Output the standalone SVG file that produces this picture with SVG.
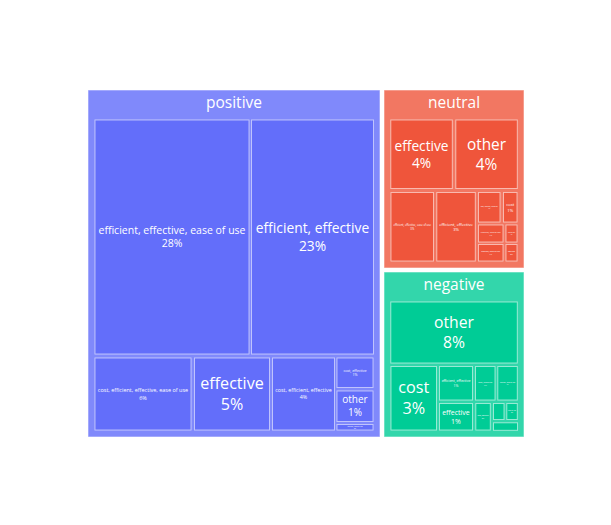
<svg xmlns="http://www.w3.org/2000/svg" width="611" height="525" viewBox="0 0 611 525">
<style>
text{font-family:"Open Sans","DejaVu Sans",sans-serif;fill:#fff;text-anchor:middle}
.pp{fill:#8089FB}.np{fill:#F27762}.gp{fill:#33D6AB}
.pl{fill:#636EFA}.nl{fill:#EF553B}.gl{fill:#00CC96}
rect{stroke:#fff;stroke-opacity:0.55;stroke-width:1}
.hd{font-size:15.5px}
</style>
<rect x="0" y="0" width="611" height="525" fill="#fff" stroke="none"/>
<g id="positive">
<rect class="pp" x="88" y="90" width="292" height="347"/>
<text class="hd" x="234" y="108">positive</text>
</g>
<g id="neutral">
<rect class="np" x="384" y="90" width="140" height="178"/>
<text class="hd" x="454" y="108">neutral</text>
</g>
<g id="negative">
<rect class="gp" x="384" y="272" width="140" height="165"/>
<text class="hd" x="454" y="290">negative</text>
</g>
<g id="connectors"></g>
<g id="pos-eeu">
<rect class="pl" x="95" y="120" width="154" height="234"/>
<text x="172" y="233.6" font-size="10.5">efficient, effective, ease of use<tspan x="172" y="247.3">28%</tspan></text>
</g>
<g id="pos-ee">
<rect class="pl" x="251.5" y="120" width="122" height="234"/>
<text x="312.5" y="233" font-size="13.8">efficient, effective<tspan x="312.5" y="250.8">23%</tspan></text>
</g>
<g id="pos-ceeu">
<rect class="pl" x="95" y="358" width="96" height="72"/>
<text x="143" y="392.3" font-size="5.5">cost, efficient, effective, ease of use<tspan x="143" y="399.5">6%</tspan></text>
</g>
<g id="pos-e">
<rect class="pl" x="194.5" y="358" width="75" height="72"/>
<text x="232" y="389.2" font-size="16.1">effective<tspan x="232" y="410.1">5%</tspan></text>
</g>
<g id="pos-cee">
<rect class="pl" x="272.5" y="358" width="62" height="72"/>
<text x="303.5" y="392.4" font-size="5.3">cost, efficient, effective<tspan x="303.5" y="399.3">4%</tspan></text>
</g>
<g id="pos-ce">
<rect class="pl" x="337" y="358" width="36" height="29.5"/>
<text x="355" y="371.7" font-size="3.65">cost, effective<tspan x="355" y="376.4">1%</tspan></text>
</g>
<g id="pos-o">
<rect class="pl" x="337" y="391" width="36" height="30.5"/>
<text x="355" y="403.3" font-size="10">other<tspan x="355" y="416.3">1%</tspan></text>
</g>
<g id="pos-small">
<rect class="pl" x="337" y="424.5" width="36" height="5.5"/>
<text x="355" y="426.8" font-size="1.6">efficient, ease of use<tspan x="355" y="428.8">0%</tspan></text>
</g>
<g id="neu-e">
<rect class="nl" x="390.8" y="120" width="61.5" height="68.5"/>
<text x="421.5" y="150.6" font-size="13.7">effective<tspan x="421.5" y="168.4">4%</tspan></text>
</g>
<g id="neu-o">
<rect class="nl" x="455.8" y="120" width="61.5" height="68.5"/>
<text x="486.5" y="149.6" font-size="15.4">other<tspan x="486.5" y="169.6">4%</tspan></text>
</g>
<g id="neu-eeu">
<rect class="nl" x="391" y="192.5" width="42.5" height="68.5"/>
<text x="412.25" y="226" font-size="2.7">efficient, effective, ease of use<tspan x="412.25" y="229.5">3%</tspan></text>
</g>
<g id="neu-ee">
<rect class="nl" x="436.8" y="192.5" width="38.5" height="68.5"/>
<text x="456" y="225.5" font-size="4.1">efficient, effective<tspan x="456" y="230.8">3%</tspan></text>
</g>
<g id="neu-cee">
<rect class="nl" x="478.5" y="192.5" width="21.5" height="29.5"/>
<text x="489.25" y="206.8" font-size="1.6">cost, efficient, effective<tspan x="489.25" y="208.9">1%</tspan></text>
</g>
<g id="neu-c">
<rect class="nl" x="503.5" y="192.5" width="13.5" height="29.5"/>
<text x="510.25" y="206" font-size="4.2">cost<tspan x="510.25" y="211.5">1%</tspan></text>
</g>
<g id="neu-eu">
<rect class="nl" x="478.5" y="225" width="24.5" height="17"/>
<text x="490.75" y="232.9" font-size="2.05">effective, ease of use<tspan x="490.75" y="235.6">1%</tspan></text>
</g>
<g id="neu-u">
<rect class="nl" x="506" y="225" width="11" height="17"/>
<text x="511.5" y="233.1" font-size="1.3">ease of use<tspan x="511.5" y="234.8">1%</tspan></text>
</g>
<g id="neu-fu">
<rect class="nl" x="478.5" y="244.5" width="24.5" height="16.5"/>
<text x="490.75" y="252.2" font-size="1.97">efficient, ease of use<tspan x="490.75" y="254.7">1%</tspan></text>
</g>
<g id="neu-f">
<rect class="nl" x="506" y="244.5" width="11" height="16.5"/>
<text x="511.5" y="252.2" font-size="1.9">efficient<tspan x="511.5" y="254.6">0%</tspan></text>
</g>
<g id="neg-o">
<rect class="gl" x="390.8" y="302" width="126.5" height="61"/>
<text x="454" y="327.8" font-size="15.7">other<tspan x="454" y="348.2">8%</tspan></text>
</g>
<g id="neg-c">
<rect class="gl" x="391" y="366.5" width="45.5" height="63.5"/>
<text x="413.75" y="393.4" font-size="16.2">cost<tspan x="413.75" y="414.4">3%</tspan></text>
</g>
<g id="neg-ee">
<rect class="gl" x="439.5" y="366.5" width="33" height="33.5"/>
<text x="456" y="382.2" font-size="3.5">efficient, effective<tspan x="456" y="386.7">1%</tspan></text>
</g>
<g id="neg-e">
<rect class="gl" x="439.5" y="403.5" width="33" height="26.5"/>
<text x="456" y="414.6" font-size="7">effective<tspan x="456" y="423.7">1%</tspan></text>
</g>
<g id="neg-ce">
<rect class="gl" x="475.5" y="366.5" width="19.5" height="33.5"/>
<text x="485.25" y="382.6" font-size="2.2">cost, effective<tspan x="485.25" y="385.5">1%</tspan></text>
</g>
<g id="neg-fu">
<rect class="gl" x="497.8" y="366.5" width="19.5" height="33.5"/>
<text x="507.5" y="382.8" font-size="1.6">efficient, ease of use<tspan x="507.5" y="384.9">1%</tspan></text>
</g>
<g id="neg-cf">
<rect class="gl" x="475.8" y="403.5" width="14.5" height="26.5"/>
<text x="483" y="416.2" font-size="1.8">cost, efficient<tspan x="483" y="418.5">0%</tspan></text>
</g>
<g id="neg-s1">
<rect class="gl" x="493.5" y="403.5" width="10.5" height="16"/>
</g>
<g id="neg-u">
<rect class="gl" x="506.8" y="403.5" width="10.5" height="16"/>
<text x="512" y="411.1" font-size="1.5">ease of use<tspan x="512" y="413">0%</tspan></text>
</g>
<g id="neg-s2">
<rect class="gl" x="493.5" y="422.8" width="24" height="7.5"/>
</g>
</svg>
